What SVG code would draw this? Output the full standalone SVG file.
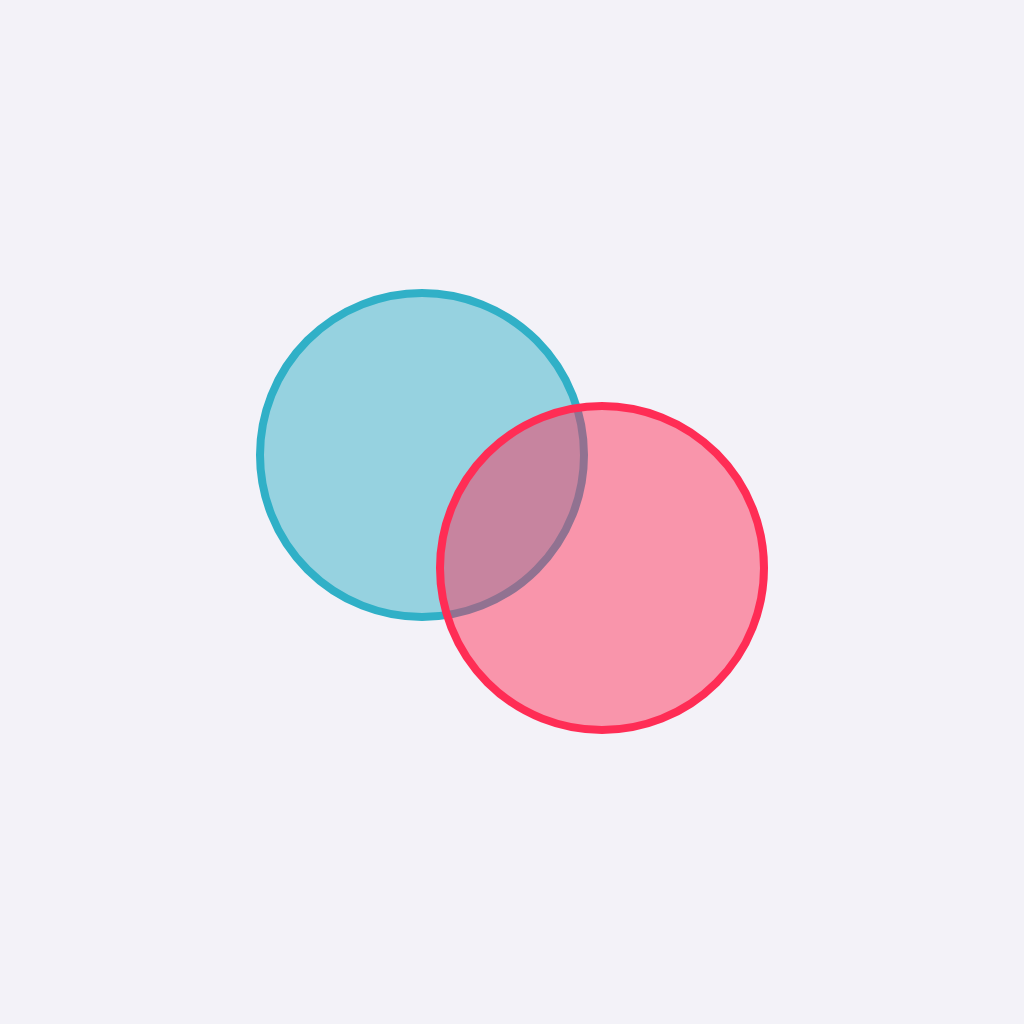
<svg xmlns="http://www.w3.org/2000/svg" width="1024" height="1024" viewBox="0 0 1024 1024">
<style>
.c{stroke-width:8}
.blue{fill:rgba(48,176,199,0.48);stroke:#30b0c7}
.red{fill:rgba(255,45,85,0.47);stroke:#ff2d55}
</style>
<rect width="1024" height="1024" fill="#f3f2f8"/>
<g id="circle-blue"><circle class="c blue" cx="422" cy="455" r="162"/></g>
<g id="circle-red"><circle class="c red" cx="602" cy="568" r="162"/></g>
<g id="connectors"/>
</svg>
